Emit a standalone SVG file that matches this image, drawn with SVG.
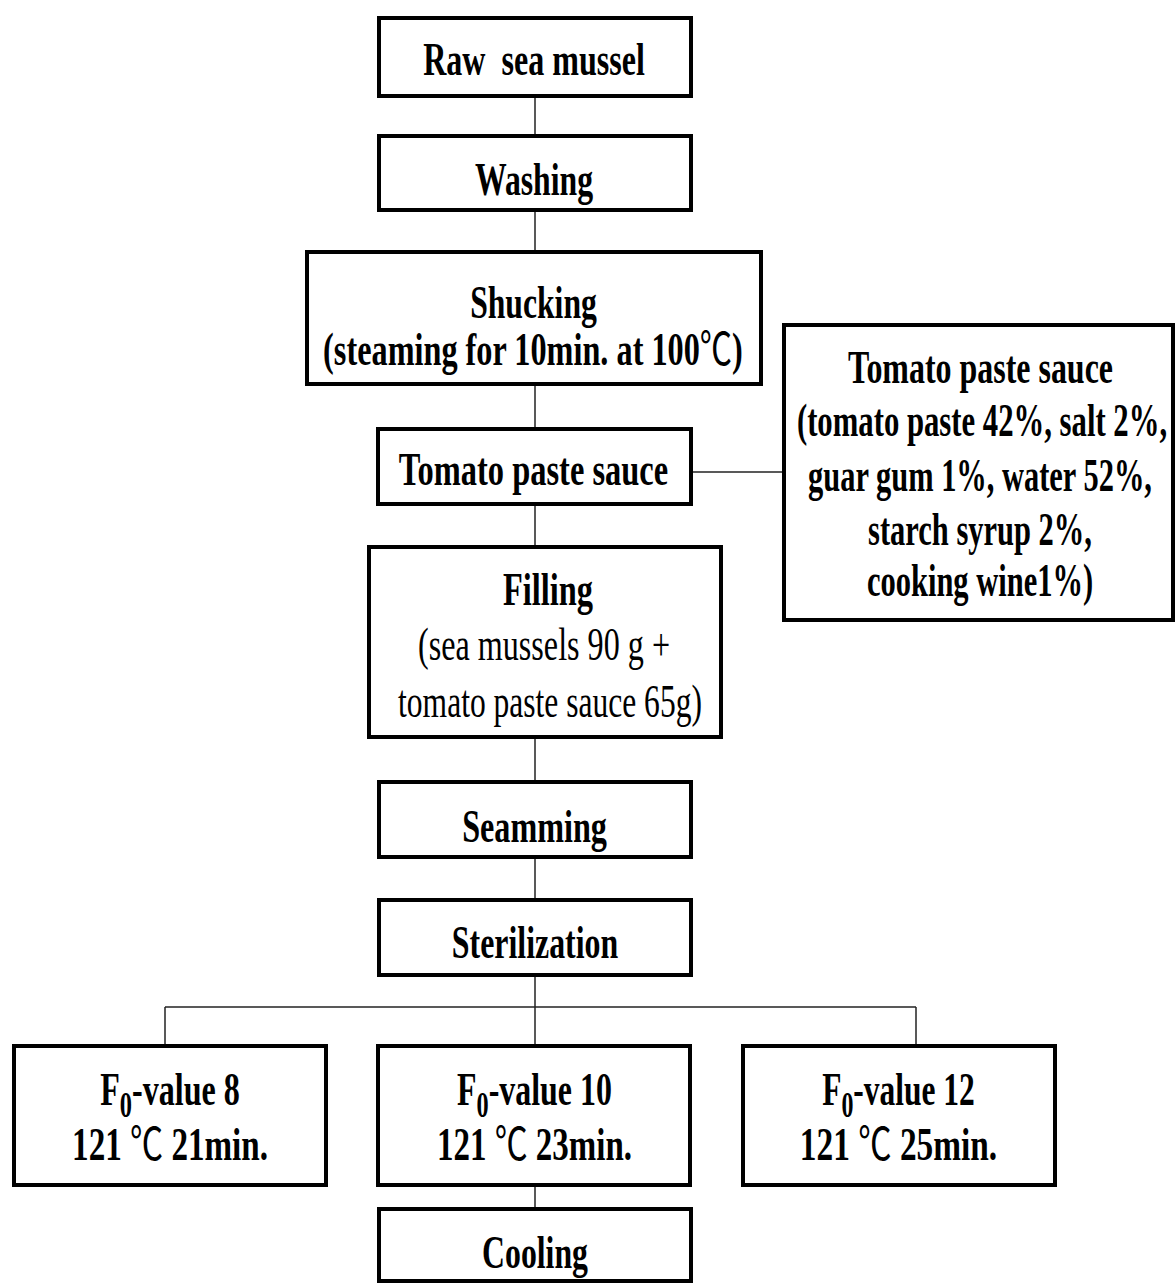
<svg xmlns="http://www.w3.org/2000/svg" width="1176" height="1284" viewBox="0 0 1176 1284">
<style>
.box{fill:#fff;stroke:#000;stroke-width:4}
.t{font-family:"Liberation Serif","Times New Roman",serif;font-weight:bold;font-size:46px;fill:#000;text-anchor:middle}
.r{font-weight:normal}
.deg{font-family:"Noto Sans CJK SC","DejaVu Sans",sans-serif;font-weight:normal}
.sub{font-size:35px}
.c{fill:none;stroke:#222;stroke-width:1.5}
</style>
<rect width="1176" height="1284" fill="#fff"/>
<g id="connectors">
<line class="c" x1="535" y1="97" x2="535" y2="135"/>
<line class="c" x1="535" y1="211" x2="535" y2="251"/>
<line class="c" x1="535" y1="385" x2="535" y2="428"/>
<line class="c" x1="535" y1="505" x2="535" y2="546"/>
<line class="c" x1="535" y1="738" x2="535" y2="781"/>
<line class="c" x1="535" y1="858" x2="535" y2="899"/>
<line class="c" x1="535" y1="976" x2="535" y2="1045"/>
<line class="c" x1="165" y1="1007" x2="916" y2="1007"/>
<line class="c" x1="165" y1="1007" x2="165" y2="1045"/>
<line class="c" x1="916" y1="1007" x2="916" y2="1045"/>
<line class="c" x1="535" y1="1186" x2="535" y2="1208"/>
<line class="c" x1="692" y1="472" x2="783" y2="472"/>
</g>
<g id="raw"><rect class="box" x="379" y="18" width="312" height="78"/>
<text class="t" style="white-space:pre" transform="translate(534,0) scale(0.72,1)" x="0" y="75" textLength="308" lengthAdjust="spacingAndGlyphs">Raw  sea mussel</text></g>
<g id="washing"><rect class="box" x="379" y="136" width="312" height="74"/>
<text class="t" transform="translate(534,0) scale(0.72,1)" x="0" y="195" textLength="164" lengthAdjust="spacingAndGlyphs">Washing</text></g>
<g id="shucking"><rect class="box" x="307" y="252" width="454" height="132"/>
<text class="t" transform="translate(533.5,0) scale(0.72,1)" x="0" y="318" textLength="176" lengthAdjust="spacingAndGlyphs">Shucking</text>
<text class="t" transform="translate(533,0) scale(0.72,1)" x="0" y="365" textLength="583" lengthAdjust="spacingAndGlyphs">(steaming for 10min. at 100<tspan class="deg">℃</tspan>)</text></g>
<g id="sauce-step"><rect class="box" x="378" y="429" width="313" height="75"/>
<text class="t" transform="translate(533.5,0) scale(0.72,1)" x="0" y="485" textLength="374" lengthAdjust="spacingAndGlyphs">Tomato paste sauce</text></g>
<g id="sauce-recipe"><rect class="box" x="784" y="325" width="389" height="295"/>
<text class="t" transform="translate(980.5,0) scale(0.72,1)" x="0" y="383" textLength="368" lengthAdjust="spacingAndGlyphs">Tomato paste sauce</text>
<text class="t" transform="translate(982,0) scale(0.667,1)" x="0" y="436" textLength="555" lengthAdjust="spacingAndGlyphs">(tomato paste 42%, salt 2%,</text>
<text class="t" transform="translate(980,0) scale(0.66,1)" x="0" y="491" textLength="521" lengthAdjust="spacingAndGlyphs">guar gum 1%, water 52%,</text>
<text class="t" transform="translate(980,0) scale(0.72,1)" x="0" y="545" textLength="311" lengthAdjust="spacingAndGlyphs">starch syrup 2%,</text>
<text class="t" transform="translate(980,0) scale(0.72,1)" x="0" y="596" textLength="314" lengthAdjust="spacingAndGlyphs">cooking wine1%)</text></g>
<g id="filling"><rect class="box" x="369" y="547" width="352" height="190"/>
<text class="t" transform="translate(548,0) scale(0.72,1)" x="0" y="605" textLength="125" lengthAdjust="spacingAndGlyphs">Filling</text>
<text class="t r" transform="translate(544,0) scale(0.72,1)" x="0" y="660" textLength="350" lengthAdjust="spacingAndGlyphs">(sea mussels 90 g +</text>
<text class="t r" transform="translate(550,0) scale(0.72,1)" x="0" y="717" textLength="422" lengthAdjust="spacingAndGlyphs">tomato paste sauce 65g)</text></g>
<g id="seamming"><rect class="box" x="379" y="782" width="312" height="75"/>
<text class="t" transform="translate(534.5,0) scale(0.72,1)" x="0" y="842" textLength="201" lengthAdjust="spacingAndGlyphs">Seamming</text></g>
<g id="sterilization"><rect class="box" x="379" y="900" width="312" height="75"/>
<text class="t" transform="translate(535,0) scale(0.72,1)" x="0" y="958" textLength="231" lengthAdjust="spacingAndGlyphs">Sterilization</text></g>
<g id="f8"><rect class="box" x="14" y="1046" width="312" height="139"/>
<text class="t" transform="translate(170,0) scale(0.72,1)" x="0" y="1105" textLength="194" lengthAdjust="spacingAndGlyphs">F<tspan class="sub" dy="12">0</tspan><tspan dy="-12">-value 8</tspan></text>
<text class="t" transform="translate(170,0) scale(0.72,1)" x="0" y="1160" textLength="272" lengthAdjust="spacingAndGlyphs">121 <tspan class="deg">℃</tspan> 21min.</text></g>
<g id="f10"><rect class="box" x="378" y="1046" width="312" height="139"/>
<text class="t" transform="translate(534.5,0) scale(0.72,1)" x="0" y="1105" textLength="215" lengthAdjust="spacingAndGlyphs">F<tspan class="sub" dy="12">0</tspan><tspan dy="-12">-value 10</tspan></text>
<text class="t" transform="translate(534.5,0) scale(0.72,1)" x="0" y="1160" textLength="271" lengthAdjust="spacingAndGlyphs">121 <tspan class="deg">℃</tspan> 23min.</text></g>
<g id="f12"><rect class="box" x="743" y="1046" width="312" height="139"/>
<text class="t" transform="translate(898.5,0) scale(0.72,1)" x="0" y="1105" textLength="212" lengthAdjust="spacingAndGlyphs">F<tspan class="sub" dy="12">0</tspan><tspan dy="-12">-value 12</tspan></text>
<text class="t" transform="translate(898.5,0) scale(0.72,1)" x="0" y="1160" textLength="274" lengthAdjust="spacingAndGlyphs">121 <tspan class="deg">℃</tspan> 25min.</text></g>
<g id="cooling"><rect class="box" x="379" y="1209" width="312" height="72"/>
<text class="t" transform="translate(535,0) scale(0.72,1)" x="0" y="1268" textLength="147" lengthAdjust="spacingAndGlyphs">Cooling</text></g>
</svg>
